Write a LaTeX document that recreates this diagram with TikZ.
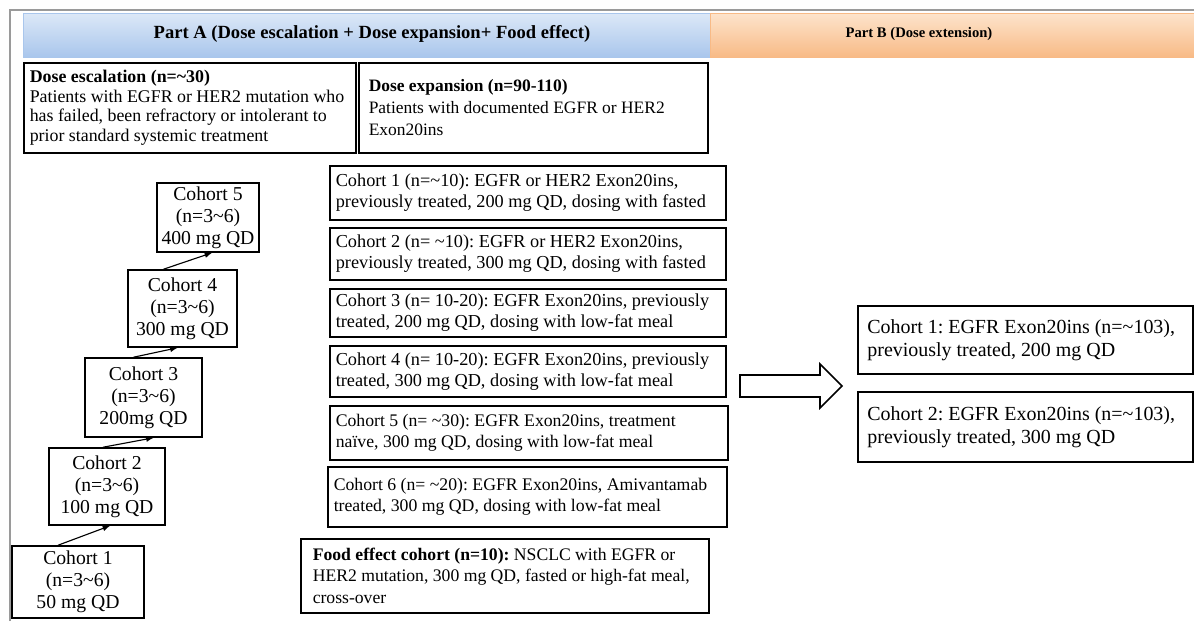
\documentclass[tikz,border=0pt]{standalone}
\usepackage{fontspec}
\setmainfont{Liberation Serif}
\usetikzlibrary{calc,positioning}
\definecolor{framegray}{HTML}{9A9A9A}
\definecolor{blueTop}{HTML}{DCE8F7}
\definecolor{blueBot}{HTML}{A9C6EC}
\definecolor{orangeTop}{HTML}{FDE4CC}
\definecolor{orangeBot}{HTML}{F8BA86}
\tikzset{%
	box/.style     = {draw, rectangle, line width=1.1pt},
	textbox/.style = {box, anchor=north west, align=flush left, inner xsep=0.15cm, inner ysep=0pt},
	stair/.style   = {box, align=center, inner sep=0pt, font=\fontsize{14}{15.6}\selectfont},
	midfont/.style = {font=\fontsize{13}{14.9}\selectfont},
	uparrow/.style = {thick,-latex},
	bandtext/.style= {font=\bfseries\fontsize{13.2}{14}\selectfont},
}
\newcommand{\tl}{\textasciitilde}
\frenchspacing

\begin{document}
\begin{tikzpicture}[x=0.025cm,y=-0.025cm]
	\useasboundingbox (0,0) rectangle (1194,621);
	% frame and header bands
	\draw[framegray, line width=1.4pt] (10,621) -- (10,10) -- (1194,10);
	\shade[top color=blueTop, bottom color=blueBot, draw=blueBot] (23,13) rectangle (710,57);
	\shade[top color=orangeTop, bottom color=orangeBot, draw=orangeBot] (710,13) rectangle (1194,57);
	\node[bandtext] (partA) at (372,34) {Part A (Dose escalation + Dose expansion+ Food effect)};
	\node[bandtext, font=\bfseries\fontsize{10.4}{13}\selectfont] (partB) at (919,34) {Part B (Dose extension)};
	% top boxes
	\node[textbox, text width=8cm, minimum height=2.25cm, font=\fontsize{12.7}{13.9}\selectfont] (esc) at (23,62)
		{\textbf{Dose escalation (n=\tl30)}\\Patients with EGFR or HER2 mutation who\\has failed, been refractory or intolerant to\\prior standard systemic treatment};
	\node[textbox, inner xsep=0.25cm, text width=8.225cm, minimum height=2.25cm, font=\fontsize{12.4}{15.5}\selectfont] (exp) at (358,62)
		{\textbf{Dose expansion (n=90-110)}\\Patients with documented EGFR or HER2\\Exon20ins};
	% dose escalation cohorts
	\node[stair, minimum width=3.3cm, minimum height=1.8cm] (s1) at (78,582) {Cohort 1\\(n=3\tl6)\\50 mg QD};
	\node[stair, minimum width=2.9cm, minimum height=1.925cm] (s2) at (107,486.5) {Cohort 2\\(n=3\tl6)\\100 mg QD};
	\node[stair, minimum width=2.925cm, minimum height=1.975cm] (s3) at (143.5,397.5) {Cohort 3\\(n=3\tl6)\\200mg QD};
	\node[stair, minimum width=2.725cm, minimum height=1.925cm] (s4) at (182.5,308.5) {Cohort 4\\(n=3\tl6)\\300 mg QD};
	\node[stair, minimum width=2.55cm, minimum height=1.725cm] (s5) at (208,217.5) {Cohort 5\\(n=3\tl6)\\400 mg QD};
	\draw[uparrow] ($(s1.north)+(-20,0)$) -- ($(s2.south)+(3,0)$);
	\draw[uparrow] ($(s2.north)+(-4,0)$) -- ($(s3.south)+(10,0)$);
	\draw[uparrow] ($(s3.north)+(-10,0)$) -- ($(s4.south)+(-5,0)$);
	\draw[uparrow] ($(s4.north)+(-19,0)$) -- ($(s5.south)+(4,0)$);
	% dose expansion cohorts
	\node[textbox, midfont, text width=9.6cm, minimum height=1.35cm] (m1) at (329,165)
		{Cohort 1 (n=\tl10): EGFR or HER2 Exon20ins,\\previously treated, 200 mg QD, dosing with fasted};
	\node[textbox, midfont, text width=9.6cm, minimum height=1.3cm] (m2) at (329,227)
		{Cohort 2 (n= \tl10): EGFR or HER2 Exon20ins,\\previously treated, 300 mg QD, dosing with fasted};
	\node[textbox, midfont, text width=9.6cm, minimum height=1.2cm] (m3) at (329,288)
		{Cohort 3 (n= 10-20): EGFR Exon20ins, previously\\treated, 200 mg QD, dosing with low-fat meal};
	\node[textbox, midfont, text width=9.6cm, minimum height=1.275cm] (m4) at (329,345)
		{Cohort 4 (n= 10-20): EGFR Exon20ins, previously\\treated, 300 mg QD, dosing with low-fat meal};
	\node[textbox, font=\fontsize{12.6}{14.9}\selectfont, text width=9.65cm, minimum height=1.35cm] (m5) at (329,405)
		{Cohort 5 (n= \tl30): EGFR Exon20ins, treatment\\naïve, 300 mg QD, dosing with low-fat meal};
	\node[textbox, font=\fontsize{12.6}{14.9}\selectfont, text width=9.675cm, minimum height=1.5cm] (m6) at (327,466)
		{Cohort 6 (n= \tl20): EGFR Exon20ins, Amivantamab\\treated, 300 mg QD, dosing with low-fat meal};
	\node[textbox, inner xsep=0.3cm, text width=9.6cm, minimum height=1.85cm, font=\fontsize{12.55}{15.2}\selectfont] (food) at (300,538)
		{\textbf{Food effect cohort (n=10):} NSCLC with EGFR or\\HER2 mutation, 300 mg QD, fasted or high-fat meal,\\cross-over};
	% towards part B
	\draw[line width=1.1pt, fill=white] (740,375) -- (820,375) -- (820,364) -- (842,386)
		-- (820,408) -- (820,397) -- (740,397) -- cycle;
	\node[textbox, inner xsep=0.24cm, text width=7.9cm, minimum height=1.7cm, font=\fontsize{14.2}{16.3}\selectfont] (r1) at (857,305)
		{Cohort 1: EGFR Exon20ins (n=\tl103),\\previously treated, 200 mg QD};
	\node[textbox, inner xsep=0.24cm, text width=7.9cm, minimum height=1.75cm, font=\fontsize{14.2}{16.3}\selectfont] (r2) at (857,391)
		{Cohort 2: EGFR Exon20ins (n=\tl103),\\previously treated, 300 mg QD};
\end{tikzpicture}
\end{document}
